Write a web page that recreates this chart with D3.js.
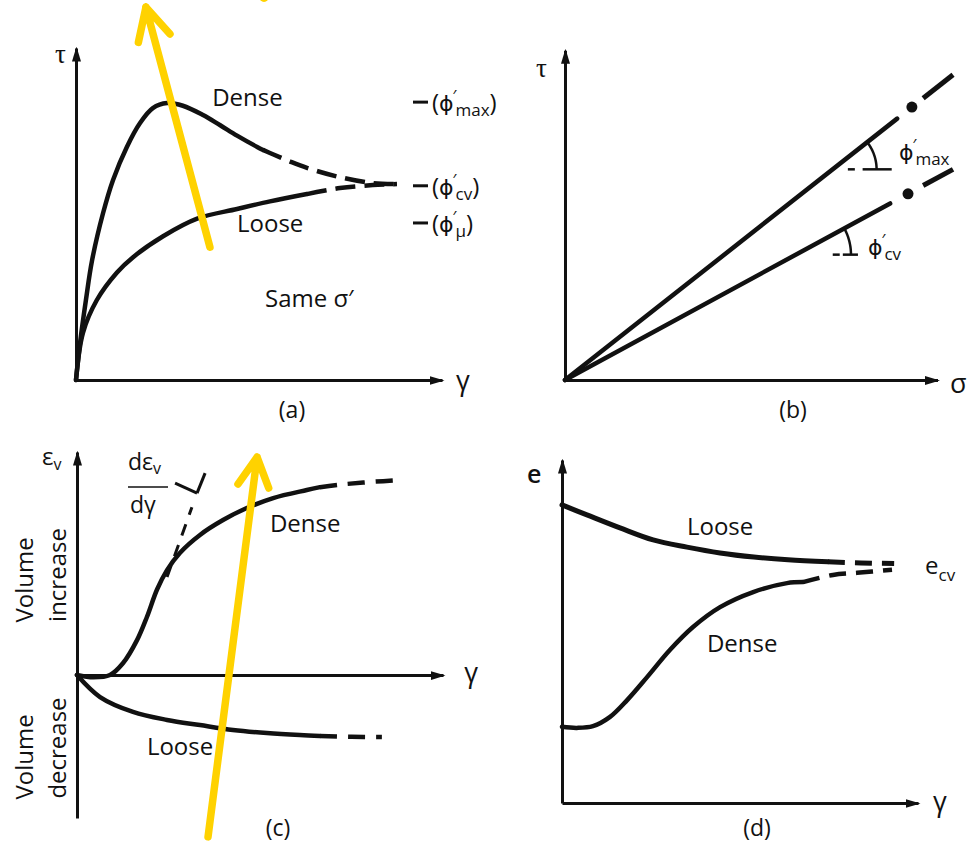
<!DOCTYPE html>
<html>
<head>
<meta charset="utf-8">
<script src="https://cdn.jsdelivr.net/npm/d3@7"></script>
<style>
  html, body { margin: 0; padding: 0; background: #fff; }
  svg { display: block; }
  text { font-family: "Open Sans", "DejaVu Sans", sans-serif; fill: #111; }
</style>
</head>
<body>
<svg id="fig" width="969" height="844"></svg>
<script>
// ---------- (a) shear stress τ against shear strain γ ----------
const denseStressSolid  = [[0,0],[0.12,1.2],[0.27,2.4],[0.44,3.61],[0.74,5.03],[1.01,6.02],[1.39,7.02],[1.75,7.74],[2.1,8.19],[2.49,8.34],[2.92,8.26],[3.47,7.98],[3.93,7.68],[4.4,7.36],[4.95,7.02],[5.11,6.93]];
const denseStressDashed = [[5.11,6.93],[5.38,6.8],[5.85,6.58],[6.31,6.39],[7.21,6.11],[8.11,5.93],[8.77,5.9]];
const looseStressSolid  = [[0,0],[0.19,1.42],[0.57,2.41],[1.12,3.24],[1.56,3.7],[2.38,4.33],[3.31,4.86],[4.4,5.15],[5.3,5.38],[6.31,5.6]];
const looseStressDashed = [[6.31,5.6],[7.21,5.78],[8.11,5.87],[8.77,5.9]];
const stressLevels = [
  { sub: "max", tau: 8.37 },
  { sub: "cv",  tau: 5.85 },
  { sub: "μ",   tau: 4.73 }
];
const trendArrowA = { tail: [3.66, 4.0], tip: [1.91, 11.23] };

// ---------- (b) failure envelopes τ = σ tan φ′ ----------
const envelopes = [
  { sub: "max", phi: 38.2, solidEnd: 8.56, dot: 8.94, dash: [9.23, 10], vertex: 6.9,  radius: 1.13, tickDash: [0.39, 0.57], tickSolid: [0.77, 1.52] },
  { sub: "cv",  phi: 28.5, solidEnd: 8.38, dot: 8.84, dash: [9.23, 10], vertex: 5.95, radius: 1.42, tickDash: [0.95, 1.13], tickSolid: [1.21, 1.6] }
];

// ---------- (c) volumetric strain εv against γ ----------
const denseVolSolid  = [[0,0],[0.45,-0.08],[0.9,0],[1.26,0.42],[1.64,1.22],[1.91,2.03],[2.19,3.0],[2.46,3.67],[2.81,4.27],[3.36,4.9],[3.99,5.42],[4.64,5.84],[5.36,6.19],[6.28,6.47],[6.64,6.57]];
const denseVolDashed = [[6.64,6.57],[7.2,6.66],[8.0,6.75],[8.88,6.82]];
const looseVolSolid  = [[0,0],[0.63,-0.77],[1.53,-1.29],[2.46,-1.57],[3.36,-1.75],[4.26,-1.92],[5.19,-2.03],[6.09,-2.1],[6.64,-2.13]];
const looseVolDashed = [[6.64,-2.13],[7.5,-2.16],[8.33,-2.17]];
const tangentDashed  = [[2.46,3.43],[3.14,5.87]];
const tangentTick    = [[3.28,6.36],[3.5,7.06]];
const tangentLeader  = [[2.68,6.71],[3.28,6.36]];
const trendArrowC = { tail: [3.58, -5.66], tip: [4.92, 7.62] };

// ---------- (d) void ratio e against γ ----------
const looseVoidSolid  = [[0,8.69],[0.7,8.4],[1.63,8.02],[2.56,7.67],[3.51,7.46],[4.44,7.29],[5.39,7.17],[6.35,7.09],[7.47,7.03]];
const looseVoidDashed = [[7.47,7.03],[8.4,7.0],[9.33,6.98]];
const denseVoidSolid  = [[0,2.22],[0.42,2.19],[0.87,2.24],[1.35,2.51],[1.83,3.0],[2.39,3.67],[3.03,4.46],[3.68,5.13],[4.44,5.71],[5.37,6.15],[6.32,6.41],[6.77,6.44]];
const denseVoidDashed = [[6.77,6.44],[7.61,6.65],[8.29,6.71],[9.27,6.8]];

// ---------------------------------------------------------------
const svg = d3.select("#fig");
const INK = "#111";
const YELLOW = "#FFD200";

const defs = svg.append("defs");
defs.append("marker")
  .attr("id", "axisHead")
  .attr("viewBox", "0 -5 15 10")
  .attr("refX", 13).attr("refY", 0)
  .attr("markerWidth", 15).attr("markerHeight", 10)
  .attr("markerUnits", "userSpaceOnUse")
  .attr("orient", "auto")
  .append("path").attr("d", "M0,-4.5L15,0L0,4.5Z").attr("fill", INK);

const curve = d3.curveCatmullRom.alpha(0.5);

function panel(xDomain, xRange, yDomain, yRange) {
  const x = d3.scaleLinear().domain(xDomain).range(xRange);
  const y = d3.scaleLinear().domain(yDomain).range(yRange);
  const g = svg.append("g");
  return { x, y, g, line: d3.line().x(d => x(d[0])).y(d => y(d[1])).curve(curve) };
}

function axes(p, xAt, yAt) {
  const ax = p.g.append("g")
    .attr("transform", `translate(0,${p.y(xAt)})`)
    .call(d3.axisBottom(p.x).tickValues([]).tickSizeOuter(0));
  const ay = p.g.append("g")
    .attr("transform", `translate(${p.x(yAt)},0)`)
    .call(d3.axisLeft(p.y).tickValues([]).tickSizeOuter(0));
  [ax, ay].forEach(a => a.select(".domain")
    .attr("stroke", INK).attr("stroke-width", 3)
    .attr("marker-end", "url(#axisHead)"));
}

function drawCurve(p, solid, dashed, dashArray, width) {
  p.g.append("path").datum(solid).attr("d", p.line)
    .attr("fill", "none").attr("stroke", INK).attr("stroke-width", width)
    .attr("stroke-linecap", "round").attr("stroke-linejoin", "round");
  if (dashed) {
    p.g.append("path").datum(dashed).attr("d", p.line)
      .attr("fill", "none").attr("stroke", INK).attr("stroke-width", width)
      .attr("stroke-dasharray", dashArray);
  }
}

function label(p, txt, xv, yv, size, anchor) {
  return p.g.append("text").attr("x", p.x(xv)).attr("y", p.y(yv))
    .attr("font-size", size || 24).attr("text-anchor", anchor || "start").text(txt);
}

// φ′ followed by a lowered subscript
function phiLabel(sel, sub, withParens) {
  if (withParens) sel.append("tspan").text("(");
  sel.append("tspan").style("font-family", "'DejaVu Sans', sans-serif").attr("font-size", 22).text("ϕ");
  sel.append("tspan").attr("font-size", 17).attr("dx", -1).attr("dy", -9).text("′");
  sel.append("tspan").attr("font-size", 17).attr("dx", -1).attr("dy", 14).text(sub);
  if (withParens) sel.append("tspan").attr("font-size", 24).attr("dy", -5).text(")");
}

function trendArrow(p, a, wingLen, wingDeg) {
  const t0 = [p.x(a.tail[0]), p.y(a.tail[1])];
  const t1 = [p.x(a.tip[0]), p.y(a.tip[1])];
  const back = Math.atan2(t0[1] - t1[1], t0[0] - t1[0]);
  const w = wingDeg * Math.PI / 180;
  const wings = [back - w, back + w].map(an => [t1[0] + wingLen * Math.cos(an), t1[1] + wingLen * Math.sin(an)]);
  const path = d3.path();
  path.moveTo(t0[0], t0[1]); path.lineTo(t1[0], t1[1]);
  wings.forEach(wp => { path.moveTo(t1[0], t1[1]); path.lineTo(wp[0], wp[1]); });
  svg.append("path").attr("d", path.toString())
    .attr("fill", "none").attr("stroke", YELLOW).attr("stroke-width", 7.5)
    .attr("stroke-linecap", "round").attr("stroke-linejoin", "round");
}

// ===== (a) =====
const A = panel([0, 10], [76, 442], [0, 10], [380, 48]);
axes(A, 0, 0);
drawCurve(A, denseStressSolid, denseStressDashed, "20 9", 4.5);
drawCurve(A, looseStressSolid, looseStressDashed, "20 9", 4.5);
label(A, "Dense", 3.72, 8.25);
label(A, "Loose", 4.4, 4.45);
A.g.append("text").attr("x", 265).attr("y", A.y(2.2)).attr("font-size", 24).text("Same σ′");
stressLevels.forEach(s => {
  A.g.append("line").attr("x1", 413).attr("x2", 428)
    .attr("y1", A.y(s.tau)).attr("y2", A.y(s.tau))
    .attr("stroke", INK).attr("stroke-width", 3);
  const t = A.g.append("text").attr("x", 432).attr("y", A.y(s.tau) + 9).attr("font-size", 24);
  phiLabel(t, s.sub, true);
});
A.g.append("text").attr("x", 55).attr("y", 63).attr("font-size", 27)
  .style("font-family", "'Liberation Serif', serif").text("τ");
A.g.append("text").attr("x", 456).attr("y", 390).attr("font-size", 27).text("γ");
A.g.append("text").attr("x", 292).attr("y", 418).attr("font-size", 23).attr("text-anchor", "middle").text("(a)");

// ===== (b) =====
const B = panel([0, 9.6], [565, 937.5], [0, 8.5], [380, 50.2]);
axes(B, 0, 0);
envelopes.forEach(e => {
  const k = Math.tan(e.phi * Math.PI / 180);
  drawCurve(B, [[0, 0], [e.solidEnd, e.solidEnd * k]], null, null, 4.5);
  B.g.append("path").datum(e.dash.map(s => [s, s * k])).attr("d", B.line)
    .attr("stroke", INK).attr("stroke-width", 5);
  B.g.append("circle").attr("cx", B.x(e.dot)).attr("cy", B.y(e.dot * k)).attr("r", 5.5).attr("fill", INK);
  const vx = B.x(e.vertex), vy = B.y(e.vertex * k);
  const pxPerUnit = B.x(1) - B.x(0);
  const r = e.radius * pxPerUnit;
  const seg = (a, b, w) => B.g.append("line")
    .attr("x1", vx + a * pxPerUnit).attr("x2", vx + b * pxPerUnit)
    .attr("y1", vy).attr("y2", vy).attr("stroke", INK).attr("stroke-width", w);
  seg(e.tickDash[0], e.tickDash[1], 2.5);
  seg(e.tickSolid[0], e.tickSolid[1], 2.5);
  const arc = d3.range(0, e.phi + 0.01, 1).map(d => {
    const t = d * Math.PI / 180;
    return [vx + r * Math.cos(t), vy - r * Math.sin(t)];
  });
  B.g.append("path").attr("d", d3.line()(arc)).attr("fill", "none")
    .attr("stroke", INK).attr("stroke-width", 2.5);
});
{
  const t1 = B.g.append("text").attr("x", 899).attr("y", 160).attr("font-size", 24);
  phiLabel(t1, "max", false);
  const t2 = B.g.append("text").attr("x", 868).attr("y", 255).attr("font-size", 24);
  phiLabel(t2, "cv", false);
}
B.g.append("text").attr("x", 536).attr("y", 77).attr("font-size", 27)
  .style("font-family", "'Liberation Serif', serif").text("τ");
B.g.append("text").attr("x", 950).attr("y", 393).attr("font-size", 27).text("σ");
B.g.append("text").attr("x", 793).attr("y", 418).attr("font-size", 23).attr("text-anchor", "middle").text("(b)");

// ===== (c) =====
const C = panel([0, 10], [77, 443], [-5, 7.8], [818, 452]);
axes(C, 0, 0);
drawCurve(C, denseVolSolid, denseVolDashed, "17 11", 4.5);
drawCurve(C, looseVolSolid, looseVolDashed, "17 11", 4.5);
C.g.append("path").datum(tangentDashed).attr("d", C.line)
  .attr("stroke", INK).attr("stroke-width", 3).attr("stroke-dasharray", "12 10");
[tangentTick, tangentLeader].forEach(seg => C.g.append("path").datum(seg).attr("d", C.line)
  .attr("stroke", INK).attr("stroke-width", 3));
label(C, "Dense", 5.27, 5.0);
label(C, "Loose", 1.91, -2.8);
{
  const fx = 128;
  C.g.append("text").attr("x", fx).attr("y", 470).attr("font-size", 23)
    .call(t => { t.append("tspan").text("dε"); t.append("tspan").attr("font-size", 16).attr("dy", 4).text("v"); });
  C.g.append("line").attr("x1", fx).attr("x2", fx + 40).attr("y1", 487).attr("y2", 487)
    .attr("stroke", INK).attr("stroke-width", 1.5);
  C.g.append("text").attr("x", fx + 2).attr("y", 513).attr("font-size", 23).text("dγ");
}
C.g.append("text").attr("x", 42).attr("y", 465).attr("font-size", 24)
  .call(t => { t.append("tspan").text("ε"); t.append("tspan").attr("font-size", 16).attr("dy", 5).text("v"); });
C.g.append("text").attr("x", 478).attr("y", 682).attr("font-size", 27).attr("text-anchor", "end").text("γ");
[["Volume", 33, 580], ["increase", 66, 575], ["Volume", 33, 757], ["decrease", 66, 748]].forEach(([s, tx, ty]) =>
  C.g.append("text").attr("transform", `translate(${tx},${ty}) rotate(-90)`)
    .attr("font-size", 24).attr("text-anchor", "middle").text(s));
C.g.append("text").attr("x", 278).attr("y", 836).attr("font-size", 23).attr("text-anchor", "middle").text("(c)");

// ===== (d) =====
const D = panel([0, 10], [562, 918], [0, 10], [803, 460]);
axes(D, 0, 0);
drawCurve(D, looseVoidSolid, looseVoidDashed, "17 10", 5);
drawCurve(D, denseVoidSolid, denseVoidDashed, "17 10", 4.5);
label(D, "Loose", 3.51, 7.8);
label(D, "Dense", 4.07, 4.41);
D.g.append("text").attr("x", 925).attr("y", 574).attr("font-size", 24)
  .call(t => { t.append("tspan").text("e"); t.append("tspan").attr("font-size", 17).attr("dy", 7).text("cv"); });
D.g.append("text").attr("x", 527).attr("y", 483).attr("font-size", 25).attr("font-weight", 600).text("e");
D.g.append("text").attr("x", 933).attr("y", 811).attr("font-size", 27).text("γ");
D.g.append("text").attr("x", 757).attr("y", 836).attr("font-size", 23).attr("text-anchor", "middle").text("(d)");

// ===== highlight arrows =====
trendArrow(A, trendArrowA, 36, 27);
trendArrow(C, trendArrowC, 33, 28);
svg.append("ellipse").attr("cx", 264).attr("cy", -4).attr("rx", 5).attr("ry", 6).attr("fill", YELLOW);
</script>
</body>
</html>
